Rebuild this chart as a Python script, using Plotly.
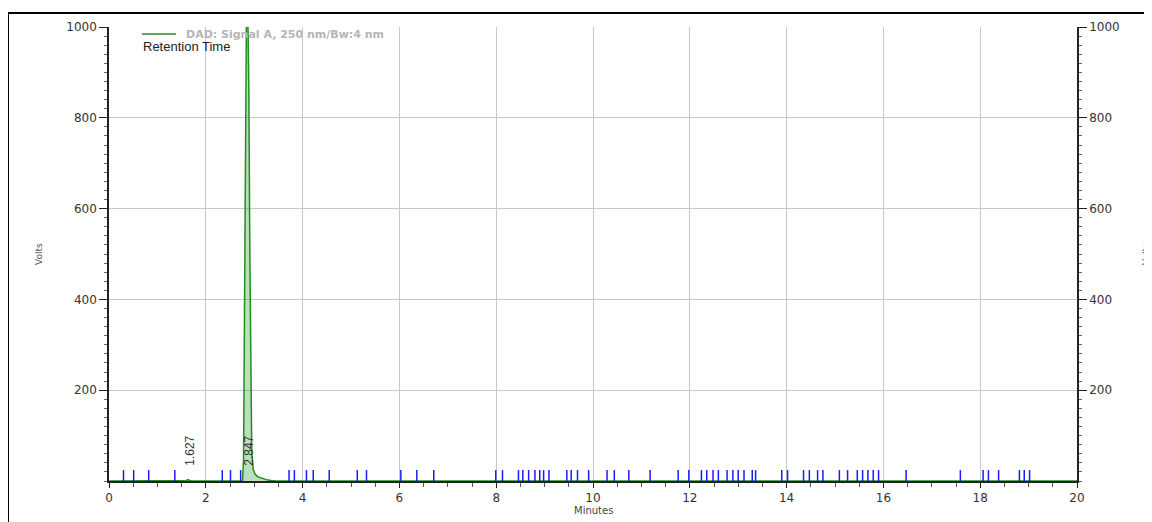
import plotly.graph_objects as go

# ---------------- data ----------------
# chromatogram trace (minutes, signal)
chrom_time = [0.0, 1.55, 1.60, 1.627, 1.66, 1.70, 2.70, 2.76, 2.78, 2.79, 2.80, 2.82,
              2.84, 2.847, 2.86, 2.89, 2.91, 2.93, 2.95, 2.98, 3.02, 3.08, 3.15,
              3.25, 3.35, 3.45, 20.0]
chrom_signal = [0, 0, 1, 3, 1, 0, 0, 0, 50, 200, 500, 850,
                1100, 1150, 1100, 850, 500, 200, 60, 25, 15, 9, 6,
                3, 1, 0, 0]

# integration event marks (minutes)
event_times = [0.30, 0.51, 0.82, 1.36, 2.34, 2.51, 2.72, 3.72, 3.83, 4.08, 4.22, 4.55,
               5.13, 5.32, 6.03, 6.36, 6.71, 7.99, 8.13, 8.46, 8.55, 8.67, 8.80, 8.90,
               8.98, 9.09, 9.46, 9.55, 9.68, 9.91, 10.29, 10.44, 10.74, 11.18, 11.76,
               11.98, 12.24, 12.35, 12.48, 12.59, 12.77, 12.89, 13.00, 13.12, 13.29,
               13.36, 13.90, 14.02, 14.35, 14.47, 14.64, 14.75, 15.09, 15.26, 15.46,
               15.57, 15.68, 15.79, 15.90, 16.47, 17.59, 18.06, 18.17, 18.38, 18.81,
               18.91, 19.02]

# peak retention times
peak_times = [1.627, 2.847]

x_ticks = [0, 2, 4, 6, 8, 10, 12, 14, 16, 18, 20]
y_ticks = [200, 400, 600, 800, 1000]

legend_name = "DAD: Signal A, 250 nm/Bw:4 nm"

# ---------------- layout geometry ----------------
OFF = 8  # page body margin
W, H = 1152 - OFF, 522 - OFF
L, R, T, B = 109 - OFF, 1077 - OFF, 27 - OFF, 481 - OFF
MARK_H = 24


def px_x(px):
    return (px - OFF - L) / (R - L)


def px_y(py):
    return (B - (py - OFF)) / (B - T)


fig = go.Figure()

# chromatogram
fig.add_trace(go.Scatter(
    x=chrom_time, y=chrom_signal, mode="lines",
    line=dict(color="#1f8f1f", width=1.5),
    fill="tozeroy", fillcolor="rgba(60,160,60,0.35)",
    showlegend=False, hoverinfo="x+y",
))

# event marks as short vertical segments
ex, ey = [], []
for t in event_times:
    ex += [t, t, None]
    ey += [0, MARK_H, None]
fig.add_trace(go.Scatter(
    x=ex, y=ey, mode="lines", yaxis="y2",
    line=dict(color="#1a1aff", width=1.5),
    showlegend=False, hoverinfo="skip",
))

tickfont = dict(family="DejaVu Sans", size=12, color="#333333")

fig.update_layout(
    width=W, height=H,
    margin=dict(l=L, r=W - R, t=T, b=H - B, autoexpand=False),
    paper_bgcolor="white", plot_bgcolor="white",
    showlegend=False,
    xaxis=dict(
        range=[0, 20], tickvals=x_ticks, ticktext=[str(v) for v in x_ticks],
        ticks="outside", ticklen=5, tickwidth=1.2, tickcolor="#222",
        showline=True, linecolor="#222", linewidth=1.5,
        showgrid=True, gridcolor="#c8c8c8", gridwidth=1,
        zeroline=False, tickfont=tickfont, automargin=False,
        minor=dict(dtick=0.5, ticklen=4, tickcolor="#555", ticks="outside", showgrid=False),
    ),
    yaxis=dict(
        range=[0, 1000], tickvals=y_ticks,
        ticks="outside", ticklen=8, tickwidth=1.2, tickcolor="#222",
        showline=True, linecolor="#222", linewidth=1.5,
        showgrid=True, gridcolor="#c8c8c8", gridwidth=1,
        zeroline=False, tickfont=tickfont, automargin=False,
        minor=dict(dtick=20, ticklen=3, tickcolor="#666", ticks="outside", showgrid=False),
    ),
    yaxis2=dict(
        range=[0, 1000], tickvals=y_ticks, overlaying="y", side="right", anchor="x",
        ticks="outside", ticklen=8, tickwidth=1.2, tickcolor="#222",
        showline=True, linecolor="#222", linewidth=1.5,
        showgrid=False, zeroline=False, tickfont=tickfont, automargin=False,
        minor=dict(dtick=20, ticklen=3, tickcolor="#666", ticks="outside"),
    ),
)

annotations = []
# axis titles
annotations.append(dict(x=0.5, y=px_y(510), xref="paper", yref="paper", text="Minutes",
                        xanchor="center", yanchor="middle", showarrow=False,
                        font=dict(family="DejaVu Sans", size=10, color="#444")))
annotations.append(dict(x=px_x(32), y=0.5, xref="paper", yref="paper", text="Volts",
                        textangle=-90, showarrow=False,
                        font=dict(family="DejaVu Sans", size=9, color="#555")))
annotations.append(dict(x=px_x(1153), y=0.5, xref="paper", yref="paper", text="Volts",
                        textangle=-90, showarrow=False,
                        font=dict(family="DejaVu Sans", size=9, color="#555")))
# legend text
annotations.append(dict(x=px_x(184), y=px_y(34), xref="paper", yref="paper",
                        text=legend_name, xanchor="left", yanchor="middle", showarrow=False,
                        font=dict(family="DejaVu Sans", size=11, color="#b5b5b5", weight="bold")))
annotations.append(dict(x=px_x(141), y=px_y(46), xref="paper", yref="paper",
                        text="Retention Time", xanchor="left", yanchor="middle", showarrow=False,
                        font=dict(family="Liberation Sans", size=13, color="#222")))
# peak labels
for t in peak_times:
    annotations.append(dict(x=t, y=0, xref="x", yref="y", text=f"{t:.3f}",
                            textangle=-90, xanchor="center", yanchor="bottom",
                            xshift=2, yshift=13, showarrow=False,
                            font=dict(family="Liberation Sans", size=12, color="#333")))
fig.update_layout(annotations=annotations)

shapes = [
    # outer frame
    dict(type="rect", xref="paper", yref="paper",
         x0=px_x(8), x1=px_x(1170), y0=px_y(540), y1=px_y(13),
         line=dict(color="black", width=2), fillcolor="rgba(0,0,0,0)", layer="above"),
    # legend line sample
    dict(type="line", xref="paper", yref="paper",
         x0=px_x(142), x1=px_x(176), y0=px_y(34), y1=px_y(34),
         line=dict(color="#1f8f1f", width=1.5)),
]
fig.update_layout(shapes=shapes)

fig.write_html("out.html")
